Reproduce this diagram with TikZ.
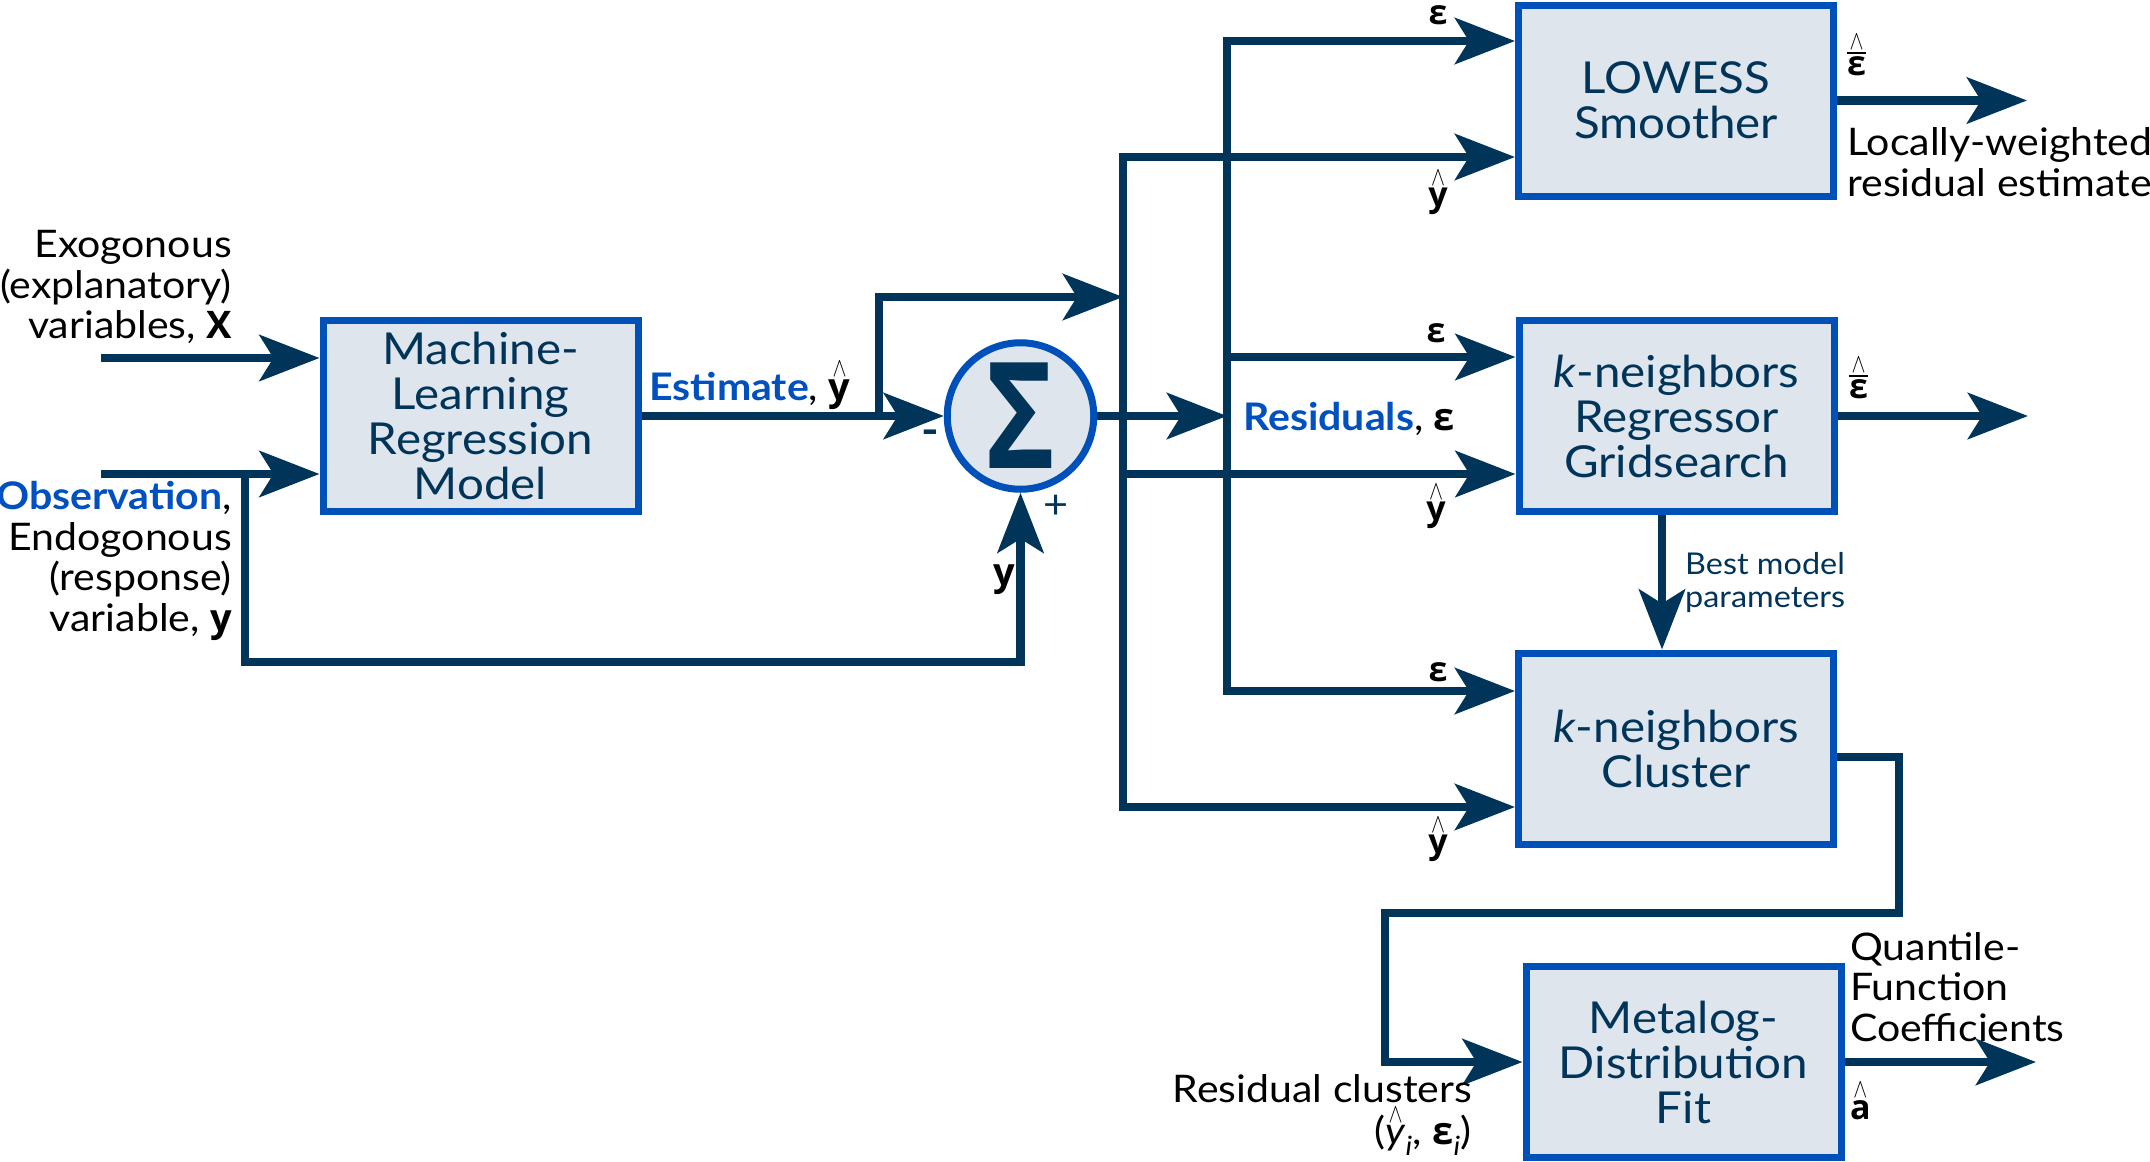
\documentclass[tikz,border=0pt]{standalone}
\usepackage{fontspec}
\setmainfont{Lato}[FakeStretch=1.08]
\newfontfamily\grk{Open Sans}
\usetikzlibrary{arrows.meta}
\definecolor{dnavy}{HTML}{013459}
\definecolor{bord}{HTML}{0050B9}
\definecolor{bfill}{HTML}{DEE5ED}
\definecolor{tblue}{HTML}{0050C0}
\newcommand\boxfont{\fontsize{44pt}{45pt}\selectfont}
\newcommand\lblfont{\fontsize{38pt}{40.5pt}\selectfont}
\newcommand\symfont{\fontsize{34pt}{36pt}\selectfont}
\newcommand\bv[1]{{\grk\bfseries #1}}
\newcommand\eps{{\grk\bfseries ε}}
\newcommand\hatover[2][2.5pt]{\leavevmode\vbox{\offinterlineskip\halign{\hfil##\hfil\cr\resizebox{14pt}{15pt}{$\wedge$}\cr\noalign{\kern#1}#2\cr}}}
\newcommand\barover[1]{\vbox{\offinterlineskip\halign{##\cr\leaders\hrule height 1.6pt depth 0pt\hfill\cr\noalign{\kern2.5pt}#1\cr}}}
\begin{document}
\begin{tikzpicture}[x=1pt,y=-1pt,
  wire/.style={draw=dnavy,line width=8.5pt},
  arr/.style={wire,-{Stealth[length=60pt,width=46pt,inset=14pt]}},
  blk/.style={draw=bord,fill=bfill,line width=7pt,minimum width=315pt,minimum height=191pt,inner sep=0pt,text=dnavy,font=\boxfont,align=center},
  lbl/.style={font=\lblfont,inner sep=0pt,text=black},
  sym/.style={font=\symfont,inner sep=0pt,text=black}]
\fill[white] (0,0) rectangle (2150,1162);
\useasboundingbox (0,0) rectangle (2150,1162);

% blocks
\node[blk] (ml) at (480.5,416) {Machine-\\Learning\\Regression\\Model};
\node[blk] (lowess) at (1676,100.5) {LOWESS\\Smoother};
\node[blk] (reg) at (1676.5,416) {\textit{k}-neighbors\\Regressor\\Gridsearch};
\node[blk] (clu) at (1676,748.5) {\textit{k}-neighbors\\Cluster};
\node[blk] (meta) at (1683.5,1062) {Metalog-\\Distribution\\Fit};
\node[circle,draw=bord,fill=bfill,line width=7pt,minimum size=146.5pt,inner sep=0pt,text=dnavy] (sig) at (1020.5,416)
  {\scalebox{0.8}[1]{\grk\bfseries\fontsize{148pt}{148pt}\selectfont Σ}};

% coordinates
\coordinate (xin) at (101,358);
\coordinate (obsin) at (101,474);
\coordinate (obsj) at (245,474);
\coordinate (ybot) at (245,662);
\coordinate (estj) at (879,416);
\coordinate (hT) at (1123,157);
\coordinate (hIn) at (1123,297);
\coordinate (hM) at (1123,474);
\coordinate (hB) at (1123,807);
\coordinate (eT) at (1227,41);
\coordinate (eM) at (1227,357);
\coordinate (eIn) at (1227,416);
\coordinate (eB) at (1227,691);
\coordinate (lo) at (2027,100.5);
\coordinate (ro) at (2028,416);
\coordinate (mo) at (2036,1062);
\coordinate (bp) at (1662,580);
\coordinate (c1) at (1899,757);
\coordinate (c2) at (1385,913);

% connectors
\draw[arr] (xin) -- (xin -| ml.west);
\draw[arr] (obsin) -- (obsin -| ml.west);
\draw[arr] (obsj) -- (ybot) -| (sig.south);
\draw[arr] (ml.east) -- (sig.west);
\draw[arr] (estj) |- (hIn);
\draw[arr] (sig.east) -- (eIn);
\draw[wire,line cap=rect] (hT) -- (hB);
\draw[wire,line cap=rect] (eT) -- (eB);
\draw[arr] (hT) -- (hT -| lowess.west);
\draw[arr] (hM) -- (hM -| reg.west);
\draw[arr] (hB) -- (hB -| clu.west);
\draw[arr] (eT) -- (eT -| lowess.west);
\draw[arr] (eM) -- (eM -| reg.west);
\draw[arr] (eB) -- (eB -| clu.west);
\draw[arr] (lowess.east) -- (lo);
\draw[arr] (reg.east) -- (ro);
\draw[arr] (meta.east) -- (mo);
\draw[arr] (reg.south -| bp) -- (clu.north -| bp);
\draw[arr] (clu.east |- c1) -- (c1) |- (c2) |- (meta.west);

% labels
\node[lbl,align=right,anchor=east] (exo) at (232,287) {Exogonous\\(explanatory)\\variables, \bv{X}};
\node[lbl,align=right,anchor=east] (obs) at (232,561) {\textcolor{tblue}{\bfseries Observation},\\Endogonous\\(response)\\variable, \bv{y}};
\node[lbl,anchor=base west] (est) at (649,400) {\textcolor{tblue}{\bfseries Estimate}, \hatover{\bv{y}}};
\node[font=\fontsize{44pt}{44pt}\selectfont\bfseries,text=dnavy,inner sep=0pt] (minus) at (930,438) {-};
\node[font=\fontsize{40pt}{40pt}\selectfont,text=dnavy,inner sep=0pt] (plus) at (1056,507) {+};
\node[lbl,anchor=base] (ylab) at (1004,585) {\bv{y}};
\node[lbl,anchor=base west] (res) at (1243,430) {\textcolor{tblue}{\bfseries Residuals}, \eps};

\node[sym] (e1) at (1438,15) {\eps};
\node[sym] (e2) at (1436,333) {\eps};
\node[sym] (e3) at (1438,672) {\eps};
\node[sym] (y1) at (1438,193) {\hatover{\bv{y}}};
\node[sym] (y2) at (1436,507) {\hatover{\bv{y}}};
\node[sym] (y3) at (1438,840) {\hatover{\bv{y}}};
\node[sym,anchor=west] (eb1) at (1847,55) {\hatover{\barover{\eps}}};
\node[sym,anchor=west] (eb2) at (1849,378) {\hatover{\barover{\eps}}};
\node[sym,anchor=west] (ahat) at (1850,1101) {\hatover{\bv{a}}};

\node[lbl,align=left,anchor=west] (loc) at (1847,162) {Locally-weighted\\residual estimate};
\node[inner sep=0pt,align=left,anchor=west,text=dnavy,font=\fontsize{30pt}{33pt}\selectfont] (best) at (1685,583) {Best model\\parameters};
\node[lbl,align=left,anchor=west] (quant) at (1850,987) {Quantile-\\Function\\Coefficients};
\node[lbl,align=right,anchor=east,font=\fontsize{38pt}{42pt}\selectfont] (rc) at (1472,1115) {Residual clusters\\(\hatover{\textit{y}}\textsubscript{\textit{i}}, \eps\textsubscript{\textit{i}})};
\end{tikzpicture}
\end{document}
